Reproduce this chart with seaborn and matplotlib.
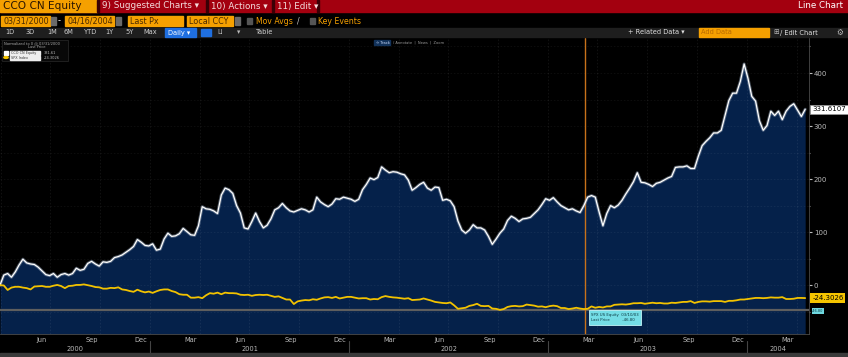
import numpy as np
import pandas as pd
import matplotlib.pyplot as plt
import matplotlib.dates as mdates
from matplotlib.patches import Rectangle
from matplotlib.transforms import blended_transform_factory
import seaborn as sns

# weekly closes, normalized to 0 on 03/31/2000 (percent change)
dates = pd.date_range("2000-03-31", periods=212, freq="7D")
cco = [0, 19, 22, 15, 25, 38, 49, 42, 40, 39,
       34, 27, 20, 18, 22, 15, 20, 22, 19, 22,
       32, 28, 30, 41, 45, 40, 36, 44, 43, 45,
       52, 54, 57, 62, 67, 73, 86, 81, 75, 74,
       78, 66, 68, 87, 98, 92, 93, 97, 107, 101,
       95, 94, 112, 148, 144, 143, 140, 135, 170, 183,
       180, 173, 150, 136, 108, 106, 120, 136, 120, 108,
       113, 125, 142, 146, 154, 146, 140, 138, 141, 144,
       142, 138, 142, 166, 157, 152, 148, 153, 163, 162,
       166, 164, 162, 158, 162, 180, 190, 202, 199, 203,
       223, 217, 212, 214, 213, 210, 208, 198, 179, 184,
       190, 194, 183, 179, 185, 184, 160, 162, 159, 148,
       121, 104, 98, 104, 114, 108, 108, 104, 92, 77,
       87, 98, 106, 122, 130, 126, 120, 125, 126, 128,
       135, 142, 152, 163, 160, 165, 157, 150, 146, 142,
       144, 140, 137, 150, 166, 169, 166, 138, 112, 135,
       150, 146, 151, 160, 172, 183, 195, 212, 194, 193,
       190, 186, 192, 194, 198, 202, 205, 222, 223, 223,
       225, 220, 220, 243, 263, 271, 278, 287, 287, 292,
       320, 348, 362, 362, 384, 417, 390, 356, 347, 310,
       292, 301, 328, 320, 328, 312, 328, 337, 342, 330,
       318, 331.6107]
spx = [0, -0.5, -9, -4.5, -3, -3, -4.5, -5.5, -8, -2.5,
       -2, -1.5, -3, -3, -1, 0.5, -1.5, -5.5, -1.5, -1,
       0.5, 0.5, 1.5, 0, -1.5, -3.5, -4, -6.5, -6.5, -5,
       -5.5, -4, -8, -9, -11, -12.5, -8.5, -11.5, -13.5, -12,
       -14.5, -11.5, -9, -8, -8, -11, -13, -17, -18, -18,
       -23.5, -23.5, -22.5, -24.5, -19, -15, -16, -14, -17, -14,
       -15, -15, -15.5, -18, -18.5, -18, -20, -18.5, -18, -18.5,
       -18, -20, -22, -21, -24, -27, -27, -35.5, -30.5, -29,
       -28, -28.5, -26.5, -27.5, -25, -23, -22.5, -24, -22, -25,
       -23.5, -22, -22, -23.5, -25, -24.5, -24.5, -27, -26, -26.5,
       -22.5, -20.5, -22, -23, -23.5, -24.5, -25.5, -24.5, -28, -27.5,
       -27, -25, -27, -29, -31.5, -32.5, -33.5, -34, -32.5, -38,
       -44.5, -43.5, -42.5, -39, -37.5, -35, -39, -39.5, -39, -44,
       -44.5, -46.5, -45, -41, -39.5, -39, -40, -39.5, -36.5, -37.5,
       -38.5, -40.5, -40, -41.5, -39.5, -38.5, -39.5, -43, -43, -45,
       -44, -42.5, -44, -45, -44.5, -40, -42.5, -41, -42, -40,
       -40, -37, -36.5, -36, -36.5, -35.5, -34, -34, -33.5, -35,
       -34, -33, -34, -33.5, -34.5, -34.5, -33, -33.5, -32.5, -31.5,
       -31.5, -30, -33.5, -31.5, -30.5, -30.5, -31, -30, -30, -30,
       -31.5, -29.5, -29.5, -28.5, -27, -27, -26, -25, -24, -24,
       -24.5, -24, -23, -23.5, -23.5, -22.5, -26, -26, -25.5, -24,
       -24, -24.3026]
cross_date = pd.Timestamp("2003-03-10")
cross_val = -46.8

df = pd.DataFrame({"date": dates, "CCO CN Equity": cco, "SPX Index": spx})

sns.set_theme(style="dark", rc={"axes.facecolor": "black", "figure.facecolor": "black"})
plt.rcParams["font.family"] = ["DejaVu Sans"]

W, H = 848, 357
fig = plt.figure(figsize=(W / 100, H / 100), dpi=100)
fig.patch.set_facecolor("black")


def fig_box(x, y, w, h, color, **kw):
    fig.patches.append(Rectangle((x / W, 1 - (y + h) / H), w / W, h / H,
                                 transform=fig.transFigure, color=color, zorder=0, **kw))


def fig_txt(x, y, s, **kw):
    fig.text(x / W, 1 - y / H, s, va="center", **kw)


orange = "#f5a000"
# --- top red bar
fig_box(0, 0, 848, 12, "#a3000f")
fig_box(0, 0, 97, 12, orange)
fig_txt(3, 6, "CCO CN Equity", color="#2a1500", fontsize=7.6)
for sx in [97, 206, 272, 317]:
    fig_box(sx, 0, 1.5, 12, "#3a0005")
fig_txt(102, 6, "9) Suggested Charts \u25be", color="#f3dcdc", fontsize=6.3)
fig_txt(211, 6, "10) Actions \u25be", color="#f3dcdc", fontsize=6.3)
fig_txt(277, 6, "11) Edit \u25be", color="#f3dcdc", fontsize=6.3)
fig_txt(843, 6, "Line Chart", ha="right", color="white", fontsize=6.3)

# --- date / field row
for bx, bw, s in [(1, 49, "03/31/2000"), (65, 49, "04/16/2004"), (128, 55, "Last Px"), (187, 46, "Local CCY")]:
    fig_box(bx, 16, bw, 10, orange)
    fig_txt(bx + 2, 21, s, color="#4a2a00", fontsize=5.8)
for bx in [51, 116, 235]:
    fig_box(bx, 17, 5, 8, "#6a6a6a")
fig_txt(58, 21, "-", color="white", fontsize=6)
fig_box(247, 18, 5, 6, "#555555")
fig_txt(256, 21, "Mov Avgs", color=orange, fontsize=5.6)
fig_txt(297, 21, "/", color="#cccccc", fontsize=5.6)
fig_box(310, 18, 5, 6, "#555555")
fig_txt(318, 21, "Key Events", color=orange, fontsize=5.6)

# --- toolbar row
fig_box(0, 28, 848, 9, "#1e1e1e")
for s, bx in [("1D", 5), ("3D", 26), ("1M", 47), ("6M", 63), ("YTD", 84), ("1Y", 105), ("5Y", 125), ("Max", 143)]:
    fig_txt(bx, 32.5, s, color="#d0d0d0", fontsize=4.8)
fig_box(165, 28.5, 31, 8, "#1f6fe0")
fig_txt(168, 32.5, "Daily \u25be", color="white", fontsize=4.8)
fig_box(201, 29, 10, 7, "#1f6fe0")
fig_txt(217, 32.5, "LI", color="#bbbbbb", fontsize=4.8)
fig_txt(237, 32.5, "\u25be", color="#bbbbbb", fontsize=4.8)
fig_txt(256, 32.5, "Table", color="#d0d0d0", fontsize=4.8)
fig_txt(628, 32.5, "+ Related Data \u25be", color="#e0e0e0", fontsize=4.8)
fig_box(699, 28.5, 70, 8, orange)
fig_txt(701, 32.5, "Add Data", color="#b86a00", fontsize=4.8)
fig_txt(773, 32.5, "\u229e", color="#bbbbbb", fontsize=4.8)
fig_txt(780, 32.5, "/ Edit Chart", color="#e0e0e0", fontsize=4.8)
fig_txt(836, 32.5, "\u2699", color="#bbbbbb", fontsize=5.5)

# --- chart
ax = fig.add_axes([0, 1 - 334 / H, 809 / W, (334 - 38) / H])
ax.set_facecolor("black")
ymin, ymax = -92, 466
x0 = dates[0]
x1 = x0 + pd.Timedelta(days=1484)

ax.fill_between(df["date"], df["CCO CN Equity"], ymin, color="#05214a", lw=0, zorder=1)
for q in pd.date_range("2000-04-01", x1, freq="QS"):
    ax.axvline(q, color="white", alpha=0.08, lw=0.6, ls=(0, (2, 2)), zorder=1.5)
for hv in range(-50, 451, 50):
    ax.axhline(hv, color="white", alpha=0.06, lw=0.6, ls=(0, (2, 2)), zorder=1.5)

ax.axhline(cross_val, color="#5e5e5e", lw=1.6, zorder=2)
ax.axvline(cross_date, color="#c8721a", lw=1.0, zorder=2.5)

sns.lineplot(data=df, x="date", y="CCO CN Equity", color="#8a9ab0", lw=2.2, alpha=0.55, ax=ax, legend=False, zorder=3)
sns.lineplot(data=df, x="date", y="CCO CN Equity", color="white", lw=0.9, ax=ax, legend=False, zorder=4)
sns.lineplot(data=df, x="date", y="SPX Index", color="#f2c200", lw=1.3, ax=ax, legend=False, zorder=4)

ax.set_xlim(x0, x1)
ax.set_ylim(ymin, ymax)
ax.set_xlabel("")
ax.set_ylabel("")
ax.grid(False)

ax.xaxis.set_major_locator(mdates.MonthLocator(bymonth=[3, 6, 9, 12], bymonthday=15))
ax.xaxis.set_major_formatter(mdates.DateFormatter("%b"))
ax.xaxis.set_minor_locator(mdates.MonthLocator())
ax.tick_params(axis="x", which="major", colors="#bbbbbb", labelsize=4.8, length=0, pad=2.5)
ax.tick_params(axis="x", which="minor", color="#777777", length=1.5)

ax.yaxis.tick_right()
ax.set_yticks(range(0, 401, 100))
ax.set_yticks(range(-50, 451, 50), minor=True)
ax.tick_params(axis="y", which="major", colors="#bbbbbb", labelsize=5, length=2, pad=1.5, width=0.8)
ax.tick_params(axis="y", which="minor", color="#888888", length=1, width=0.8)
ax.yaxis.set_minor_formatter(plt.NullFormatter())

for side in ["left", "top"]:
    ax.spines[side].set_visible(False)
ax.spines["right"].set_color("#4a4a4a")
ax.spines["right"].set_linewidth(0.6)
ax.spines["bottom"].set_color("#4a4a4a")
ax.spines["bottom"].set_linewidth(0.6)

# year row below the month labels
for yr in [2000, 2001, 2002, 2003, 2004]:
    ys = max(pd.Timestamp(f"{yr}-01-01"), x0)
    ye = min(pd.Timestamp(f"{yr}-12-31"), x1)
    ax.text(ys + (ye - ys) / 2, -0.05, str(yr), transform=ax.get_xaxis_transform(),
            ha="center", va="center", color="#bbbbbb", fontsize=4.8, clip_on=False)
    if yr > 2000:
        ax.axvline(pd.Timestamp(f"{yr}-01-01"), ymin=-0.065, ymax=-0.022, color="#444444",
                   lw=0.8, clip_on=False)
fig_box(0, 353, 848, 4, "#3a3a3a")

# last value tags on the right axis
tr = blended_transform_factory(ax.transAxes, ax.transData)
ax.text(1.004, cco[-1], f"{cco[-1]:.4f}", transform=tr, ha="left", va="center", fontsize=5,
        color="black", clip_on=False,
        bbox=dict(boxstyle="square,pad=0.25", fc="white", ec="#999999", lw=0.5))
ax.text(1.004, spx[-1], f"{spx[-1]:.4f}", transform=tr, ha="left", va="center", fontsize=5,
        color="black", clip_on=False,
        bbox=dict(boxstyle="square,pad=0.25", fc="#f5c400", ec="none"))
ax.text(1.004, cross_val - 2, "-46.80", transform=tr, ha="left", va="center", fontsize=2.5,
        color="#0a3a40", clip_on=False,
        bbox=dict(boxstyle="square,pad=0.2", fc="#6fd8e0", ec="none"))

# crosshair tooltip and date tag
ax.text(cross_date + pd.Timedelta(days=10), cross_val - 5,
        "SPX US Equity  03/10/03\nLast Price          -46.80",
        ha="left", va="top", fontsize=2.8, color="#0b3640", zorder=6, linespacing=1.6,
        bbox=dict(boxstyle="square,pad=0.6", fc="#74dde6", ec="#c4f6fa", lw=0.6))
ax.text(cross_date, -0.075, "03/10/2003", transform=ax.get_xaxis_transform(), ha="center",
        va="center", fontsize=2.6, color="#0b3640", clip_on=False,
        bbox=dict(boxstyle="square,pad=0.3", fc="#6fd8e0", ec="none"))

# legend panel, top left
fig_box(2, 40, 66, 21, "#080808", ec="#333333", lw=0.4)
fig_txt(4, 43.5, "Normalized to 0 @ 03/31/2000", color="#aaaaaa", fontsize=2.6)
fig_txt(28, 47.5, "Last Price", color="#aaaaaa", fontsize=2.6)
fig_box(4, 51, 4, 4, "white")
fig_box(10, 50.5, 30, 4.5, "#eeeeee")
fig_txt(11, 52.8, "CCO CN Equity", color="#333333", fontsize=2.4)
fig_txt(44, 52.8, "331.61", color="#bbbbbb", fontsize=2.6)
fig.patches.append(plt.Circle((6 / W, 1 - 57.5 / H), 2.2 / W, transform=fig.transFigure, color="#f2c200"))
fig_box(10, 55.5, 30, 4.5, "#eeeeee")
fig_txt(11, 57.8, "SPX Index", color="#333333", fontsize=2.4)
fig_txt(44, 57.8, "-24.3026", color="#bbbbbb", fontsize=2.6)

# chart mode buttons
fig_box(374, 40, 16, 5, "#12325a")
fig_txt(376, 42.5, "\u2606 Track", color="#cfe0ff", fontsize=2.6)
fig_txt(393, 42.5, "/ Annotate  |  News  |  Zoom", color="#9a9a9a", fontsize=2.6)

fig.savefig("out.png", dpi=100, facecolor="black")
